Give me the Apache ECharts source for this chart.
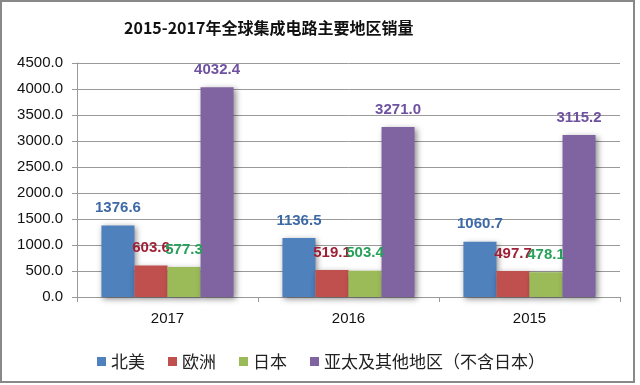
<!DOCTYPE html>
<html><head><meta charset="utf-8">
<script src="https://cdn.jsdelivr.net/npm/echarts@6/dist/echarts.min.js"></script>
<style>html,body{margin:0;padding:0;background:#fff}#c{width:640px;height:385px}</style>
</head><body><div id="c"></div>
<script>
const categories = ['2017', '2016', '2015'];
const seriesNames = ['北美', '欧洲', '日本', '亚太及其他地区（不含日本）'];
const northAmerica = [1376.6, 1136.5, 1060.7];
const europe = [603.6, 519.1, 497.7];
const japan = [577.3, 503.4, 478.1];
const asiaPacific = [4032.4, 3271.0, 3115.2];
const colors = ['#4F81BD', '#C0504D', '#9BBB59', '#8064A2'];
const labelColors = ['#3D6AA6', '#9E1F36', '#27A05A', '#6E52A0'];
const values = [northAmerica, europe, japan, asiaPacific];

const chart = echarts.init(document.getElementById('c'));
chart.setOption({
  animation: false,
  title: {
    text: '2015-2017年全球集成电路主要地区销量',
    left: 119, top: 15,
    textStyle: {fontFamily: 'Noto Sans CJK SC', fontWeight: 'bold', fontSize: 16, color: '#111'}
  },
  legend: {
    data: seriesNames, top: 348, left: 92,
    icon: 'rect', itemWidth: 9, itemHeight: 9, itemGap: 23,
    textStyle: {fontFamily: 'Noto Sans CJK SC', fontSize: 17, color: '#222'}
  },
  grid: {left: 77, right: 20, top: 63, bottom: 88},
  xAxis: {
    type: 'category', data: categories,
    axisLine: {lineStyle: {color: '#999'}},
    axisTick: {show: true, length: 5, lineStyle: {color: '#999'}},
    axisLabel: {fontFamily: 'Liberation Sans', fontSize: 15, color: '#111', margin: 14}
  },
  yAxis: {
    type: 'value', min: 0, max: 4500, interval: 500,
    axisLine: {show: true, lineStyle: {color: '#999'}},
    axisTick: {show: true, length: 5, lineStyle: {color: '#999'}},
    splitLine: {lineStyle: {color: '#9a9a9a'}},
    axisLabel: {fontFamily: 'Liberation Sans', fontSize: 15, color: '#111', margin: 14,
      formatter: v => v.toFixed(1)}
  },
  series: values.map((d, i) => ({
    name: seriesNames[i], type: 'bar', data: d,
    barGap: '0%', barCategoryGap: '27%',
    itemStyle: {color: colors[i], shadowColor: 'rgba(0,0,0,0.45)', shadowBlur: 6, shadowOffsetX: 2, shadowOffsetY: 2},
    label: {show: true, position: 'top', distance: 10,
      fontFamily: 'Liberation Sans', fontWeight: 'bold', fontSize: 15, color: labelColors[i],
      formatter: p => p.value.toFixed(1)}
  })),
  graphic: [{type: 'rect', shape: {x: 1, y: 1, width: 633, height: 381},
    style: {fill: 'none', stroke: '#888', lineWidth: 2}, silent: true}]
});
</script></body></html>
